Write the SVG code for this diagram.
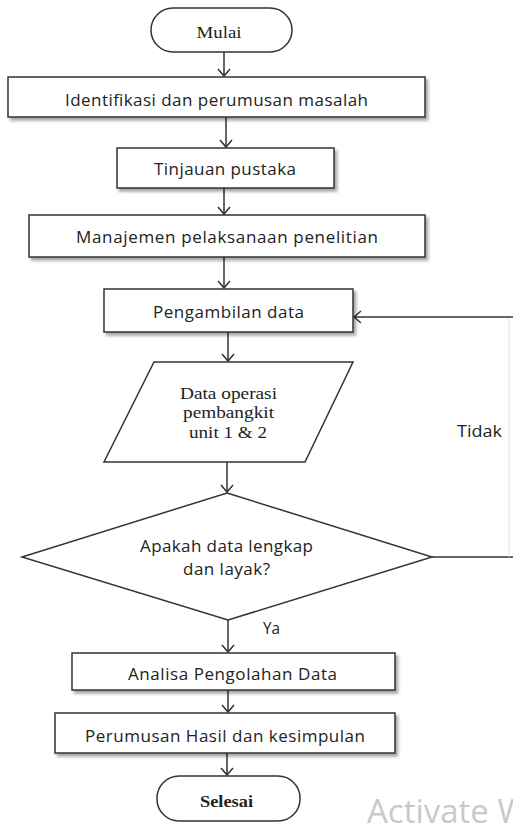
<svg xmlns="http://www.w3.org/2000/svg" width="513" height="825" viewBox="0 0 513 825">
<style>
.box{fill:#fff;stroke:#333;stroke-width:1.5;filter:url(#sh)}
.shape{fill:#fff;stroke:#333;stroke-width:1.5}
.t{font-family:"Open Sans","DejaVu Sans",sans-serif;font-size:17px;fill:#222;text-anchor:middle}
.s{font-family:"Liberation Serif","Times New Roman",serif;font-size:17px;fill:#222;text-anchor:middle}
.c{fill:none;stroke:#333;stroke-width:1.5}
.wm{font-family:"Open Sans","Noto Sans",sans-serif;font-size:33px;fill:#c9c9c9}
</style>
<defs>
<filter id="sh" x="-10%" y="-30%" width="125%" height="180%">
<feDropShadow dx="2.5" dy="3" stdDeviation="1.5" flood-color="#000" flood-opacity="0.35"/>
</filter>
<marker id="ah" markerUnits="userSpaceOnUse" markerWidth="16" markerHeight="16" refX="10" refY="8" orient="auto">
<path d="M3,2 L10,8 L3,14" fill="none" stroke="#333" stroke-width="1.5"/>
</marker>
</defs>

<g id="connectors">
<line class="c" x1="224" y1="52" x2="224" y2="76" marker-end="url(#ah)"/>
<line class="c" x1="226" y1="117" x2="226" y2="147" marker-end="url(#ah)"/>
<line class="c" x1="224" y1="188" x2="224" y2="214" marker-end="url(#ah)"/>
<line class="c" x1="224" y1="257" x2="224" y2="288" marker-end="url(#ah)"/>
<line class="c" x1="228" y1="332" x2="228" y2="361" marker-end="url(#ah)"/>
<line class="c" x1="227" y1="462" x2="227" y2="492" marker-end="url(#ah)"/>
<line class="c" x1="228" y1="620" x2="228" y2="652" marker-end="url(#ah)"/>
<line class="c" x1="228" y1="690" x2="228" y2="712" marker-end="url(#ah)"/>
<line class="c" x1="227" y1="753" x2="227" y2="775" marker-end="url(#ah)"/>
<line class="c" x1="432" y1="557" x2="513" y2="557"/>
<line x1="509" y1="317" x2="509" y2="557" stroke="#e2e2e2" stroke-width="1"/>
<line class="c" x1="513" y1="317" x2="354" y2="317" marker-end="url(#ah)"/>
<text class="t" x="479.5" y="437" textLength="45" lengthAdjust="spacingAndGlyphs">Tidak</text>
<text class="t" x="271.5" y="634" textLength="17" lengthAdjust="spacingAndGlyphs">Ya</text>
</g>

<g id="mulai">
<rect class="shape" x="151" y="8" width="141" height="44" rx="22" ry="22"/>
<text class="s" x="219" y="38" textLength="45" lengthAdjust="spacingAndGlyphs">Mulai</text>
</g>

<g id="identifikasi">
<rect class="box" x="8" y="77" width="417" height="40"/>
<text class="t" x="216.5" y="106" textLength="303" lengthAdjust="spacing">Identifikasi dan perumusan masalah</text>
</g>

<g id="tinjauan">
<rect class="box" x="117" y="148" width="217" height="40"/>
<text class="t" x="225" y="175" textLength="142" lengthAdjust="spacing">Tinjauan pustaka</text>
</g>

<g id="manajemen">
<rect class="box" x="29" y="215" width="396" height="42"/>
<text class="t" x="227" y="243" textLength="302" lengthAdjust="spacing">Manajemen pelaksanaan penelitian</text>
</g>

<g id="pengambilan">
<rect class="box" x="104" y="289" width="249" height="43"/>
<text class="t" x="228.5" y="318" textLength="151" lengthAdjust="spacing">Pengambilan data</text>
</g>

<g id="data-operasi">
<polygon class="shape" points="154,362 353,362 305,462 104,462"/>
<text class="s" x="228.5" y="399" textLength="97" lengthAdjust="spacingAndGlyphs">Data operasi</text>
<text class="s" x="228.5" y="418" textLength="91" lengthAdjust="spacingAndGlyphs">pembangkit</text>
<text class="s" x="228" y="438" textLength="78" lengthAdjust="spacingAndGlyphs">unit 1 &amp; 2</text>
</g>

<g id="keputusan">
<polygon class="shape" points="227,493 432,557 228,620 22,557"/>
<text class="t" x="226.5" y="552" textLength="173" lengthAdjust="spacing">Apakah data lengkap</text>
<text class="t" x="226.5" y="575" textLength="87" lengthAdjust="spacing">dan layak?</text>
</g>

<g id="analisa">
<rect class="box" x="72" y="653" width="323" height="37"/>
<text class="t" x="232.5" y="680" textLength="209" lengthAdjust="spacing">Analisa Pengolahan Data</text>
</g>

<g id="perumusan">
<rect class="box" x="55" y="713" width="340" height="40"/>
<text class="t" x="225" y="742" textLength="280" lengthAdjust="spacing">Perumusan Hasil dan kesimpulan</text>
</g>

<g id="selesai">
<rect class="shape" x="157" y="776" width="143" height="45" rx="22" ry="22"/>
<text class="s" x="226.5" y="807" textLength="53" lengthAdjust="spacingAndGlyphs" font-weight="bold">Selesai</text>
</g>

<text class="wm" x="367" y="823">Activate W</text>
</svg>
